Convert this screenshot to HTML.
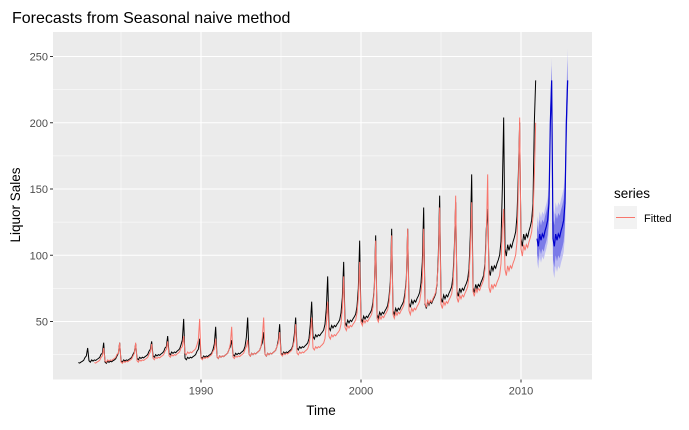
<!DOCTYPE html>
<html><head><meta charset="utf-8"><style>
html,body{margin:0;padding:0;background:#fff;}
svg text{font-family:"Liberation Sans",Arial,sans-serif;}
</style></head><body>
<svg id="chart" width="689" height="425" viewBox="0 0 689 425" xmlns="http://www.w3.org/2000/svg">
<text x="12" y="23" font-size="16" fill="#000">Forecasts from Seasonal naive method</text>
<rect x="53" y="32" width="539" height="347.5" fill="#EBEBEB"/>
<g id="grid"></g>
<g id="bands"></g>
<g id="lines"></g>
<g id="axes"></g>
<text x="321" y="415" font-size="13.5" text-anchor="middle" fill="#000">Time</text>
<text transform="translate(20,205) rotate(-90)" font-size="13.5" text-anchor="middle" fill="#000">Liquor Sales</text>
<g>
<text x="614" y="198" font-size="13.5" fill="#000">series</text>
<rect x="614" y="206" width="23" height="23" fill="#F2F2F2"/>
<line x1="616" y1="217.5" x2="635" y2="217.5" stroke="#F8766D" stroke-width="1"/>
<text x="644" y="222" font-size="11" fill="#000">Fitted</text>
</g>
</svg>
<script>
// yearly data (1982..2010)
const years = [1982,1983,1984,1985,1986,1987,1988,1989,1990,1991,1992,1993,1994,1995,1996,1997,1998,1999,2000,2001,2002,2003,2004,2005,2006,2007,2008,2009,2010];
const baseLevel = [19,21,20,21,23,25,27,23,24,24,26,26,26,27,31,40,47,51,54,57,60,66,65,70,75,78,92,108,116];
const novValues = [24,26,26,27,29,31,36,29,33,31,38,34,36,40,48,60,68,75,76,80,82,95,100,105,115,120,150,160,200];
const decValues = [30,34,34,33,35,39,52,37,46,36,53,42,48,53,65,84,95,111,115,120,120,136,145,140,161,135,204,200,232];
const monthShape = [0.97,0.92,1.0,0.96,1.0,0.98,1.02,1.05,1.09,1.2];
const startMonth = 4; // first observation month index of 1982 (May)
const xTicks = [1990,2000,2010];
const yTicks = [50,100,150,200,250];
const band80 = [11,16];
const band95 = [17,24];

const NS='http://www.w3.org/2000/svg';
const X0=53,X1=592,Y0=32,Y1=379.5;
const xs=t=>201+(t-1990)*16;
const ys=v=>56.5+(250-v)*1.325;
function mk(tag,attrs,parent){const e=document.createElementNS(NS,tag);for(const k in attrs)e.setAttribute(k,attrs[k]);parent.appendChild(e);return e;}

const series=[];
years.forEach((y,i)=>{for(let m=0;m<12;m++){
  if(y===years[0]&&m<startMonth)continue;
  let v=m<10?baseLevel[i]*monthShape[m]:(m===10?novValues[i]:decValues[i]);
  series.push({t:y+m/12,v:v});}});
const fitted=[];
for(let k=12;k<series.length;k++)fitted.push({t:series[k].t,v:series[k-12].v});
const last=series.slice(-12);
const fc=[];
for(let h=0;h<24;h++){const s=Math.floor(h/12);fc.push({t:2011+h/12,v:last[h%12].v,s:s});}

const grid=document.getElementById('grid');
[25,75,125,175,225].forEach(v=>{const l=mk('line',{x1:X0,x2:X1,y1:ys(v),y2:ys(v),stroke:'#fff','stroke-width':0.55},grid);
});
[1985,1995,2005].forEach(t=>{const l=mk('line',{x1:xs(t),x2:xs(t),y1:Y0,y2:Y1,stroke:'#fff','stroke-width':0.55},grid);
});
yTicks.forEach(v=>{const l=mk('line',{x1:X0,x2:X1,y1:ys(v),y2:ys(v),stroke:'#fff','stroke-width':1.1},grid);
});
xTicks.forEach(t=>{const l=mk('line',{x1:xs(t),x2:xs(t),y1:Y0,y2:Y1,stroke:'#fff','stroke-width':1.1},grid);
});

const axes=document.getElementById('axes');
yTicks.forEach(v=>{const tk=mk('line',{x1:X0-3,x2:X0,y1:ys(v),y2:ys(v),stroke:'#333','stroke-width':1},axes);

const tx=mk('text',{x:X0-5,y:ys(v)+4,'font-size':11,'text-anchor':'end',fill:'#4D4D4D'},axes);tx.textContent=v;
});
xTicks.forEach(t=>{const tk=mk('line',{x1:xs(t),x2:xs(t),y1:Y1,y2:Y1+3,stroke:'#333','stroke-width':1},axes);

const tx=mk('text',{x:xs(t),y:Y1+15,'font-size':11,'text-anchor':'middle',fill:'#4D4D4D'},axes);tx.textContent=t;
});

function path(arr,f){return arr.map((p,i)=>(i?'L':'M')+xs(p.t).toFixed(2)+','+ys(f(p)).toFixed(2)).join('');}
function bandPath(arr,w){const up=arr.map((p,i)=>(i?'L':'M')+xs(p.t).toFixed(2)+','+ys(p.v+w[p.s]).toFixed(2)).join('');
const dn=arr.slice().reverse().map(p=>'L'+xs(p.t).toFixed(2)+','+ys(p.v-w[p.s]).toFixed(2)).join('');return up+dn+'Z';}
const bands=document.getElementById('bands');
const b95=mk('path',{d:bandPath(fc,band95),fill:'#BEBEF2'},bands);

const b80=mk('path',{d:bandPath(fc,band80),fill:'#7B7BE8'},bands);


const lines=document.getElementById('lines');
const ld=mk('path',{d:path(series,p=>p.v),fill:'none',stroke:'#000','stroke-width':1},lines);

const lf=mk('path',{d:path(fitted,p=>p.v),fill:'none',stroke:'#F8766D','stroke-width':1},lines);

const lfc=mk('path',{d:path(fc,p=>p.v),fill:'none',stroke:'#0000CC','stroke-width':1.2},lines);

</script>
</body></html>
